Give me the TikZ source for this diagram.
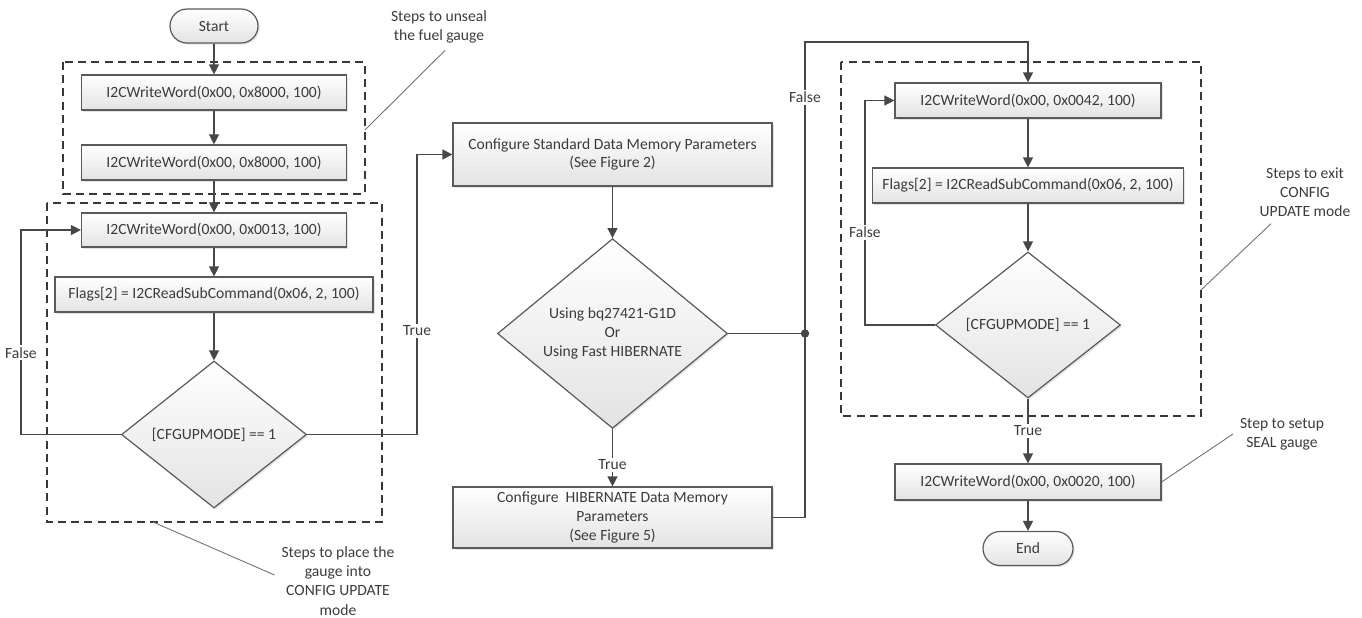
\documentclass[tikz,border=0pt]{standalone}
\usepackage{fontspec}
\setmainfont{Carlito}
\usetikzlibrary{positioning,shapes.geometric,arrows.meta,shadows}

\definecolor{ln}{HTML}{474747}
\definecolor{txt}{HTML}{3C3C3C}
\definecolor{boxline}{HTML}{5A5A5A}

\tikzset{
  base/.style={draw=boxline, line width=0.6pt, text=txt,
    font=\fontsize{7.8}{9.3}\selectfont, align=center,
    top color=white, bottom color=black!11,
    drop shadow={opacity=0.22, shadow xshift=0.8pt, shadow yshift=-0.8pt}},
  proc/.style={base, rectangle, inner sep=0pt},
  term/.style={base, rectangle, rounded corners=8.5pt, inner sep=0pt,
    minimum width=44pt, minimum height=17pt},
  test/.style={base, diamond, inner sep=0pt},
  flow/.style={draw=ln, line width=0.65pt, -{Triangle[length=5pt,width=5pt]}},
  wire/.style={draw=ln, line width=0.65pt},
  frame/.style={draw=black!78, line width=0.6pt, dash pattern=on 4pt off 2.6pt},
  note/.style={align=center, text=txt, font=\fontsize{7.8}{9.6}\selectfont},
  callout/.style={draw=black!55, line width=0.45pt},
  lbl/.style={fill=white, inner sep=1pt, text=txt, font=\fontsize{7.8}{9.3}\selectfont}
}

\begin{document}
\begin{tikzpicture}[x=0.5pt, y=-0.5pt]
  \useasboundingbox (0,0) rectangle (1362,617);

  % unseal and enter config update
  \node (start) [term] at (214,26) {Start};
  \node (a1) [proc, below of=start, node distance=33.25pt, minimum width=132.5pt, minimum height=17.5pt] {I2CWriteWord(0x00, 0x8000, 100)};
  \node (a2) [proc, below of=a1, node distance=35pt, minimum width=132.5pt, minimum height=17.5pt] {I2CWriteWord(0x00, 0x8000, 100)};
  \node (a3) [proc, below of=a2, node distance=33.75pt, minimum width=132.5pt, minimum height=17pt] {I2CWriteWord(0x00, 0x0013, 100)};
  \node (a4) [proc, below of=a3, node distance=32.25pt, minimum width=159pt, minimum height=17.5pt] {Flags[2] = I2CReadSubCommand(0x06, 2, 100)};
  \node (d1) [test, below of=a4, node distance=70pt, minimum width=92.5pt, minimum height=73.5pt] {[CFGUPMODE] == 1};

  % data memory
  \node (b1) [proc, minimum width=159.5pt, minimum height=31.5pt] at (612.5,154.5) {Configure Standard Data Memory Parameters\\(See Figure 2)};
  \node (d2) [test, below of=b1, node distance=89.5pt, minimum width=115pt, minimum height=91.5pt] {Using bq27421-G1D\\Or\\Using Fast HIBERNATE};
  \node (b2) [proc, below of=d2, node distance=92pt, minimum width=159.5pt, minimum height=30.5pt] {Configure\ \ HIBERNATE Data Memory\\Parameters\\(See Figure 5)};
  \coordinate (dot) at (805,333.5);

  % exit config update and seal
  \node (c1) [proc, minimum width=133pt, minimum height=17.5pt] at (1028,100.5) {I2CWriteWord(0x00, 0x0042, 100)};
  \node (c2) [proc, below of=c1, node distance=42.5pt, minimum width=155.5pt, minimum height=17.5pt] {Flags[2] = I2CReadSubCommand(0x06, 2, 100)};
  \node (d3) [test, below of=c2, node distance=69.75pt, minimum width=92.5pt, minimum height=73pt] {[CFGUPMODE] == 1};
  \node (c3) [proc, below of=d3, node distance=78.5pt, minimum width=133pt, minimum height=18pt] {I2CWriteWord(0x00, 0x0020, 100)};
  \node (end) [term, below of=c3, node distance=33.25pt, minimum width=45pt] {End};

  % dashed groups
  \draw[frame] (63,62) rectangle (365,194);
  \draw[frame] (47,203) rectangle (382,522);
  \draw[frame] (841,62) rectangle (1201,416);

  % flow
  \draw[flow] (start) -- (a1);
  \draw[flow] (a1) -- (a2);
  \draw[flow] (a2) -- (a3);
  \draw[flow] (a3) -- (a4);
  \draw[flow] (a4) -- (d1);
  \draw[flow] (d1.west) -- ++(-100,0) |- node[lbl, pos=0.2] {False} (a3.west);
  \draw[flow] (d1.east) -- ++(110,0) |- node[lbl, pos=0.185] {True} (b1.west);
  \draw[flow] (b1) -- (d2);
  \draw[flow] (d2) -- node[lbl, pos=0.62] {True} (b2);
  \draw[wire] (d2.east) -- (dot);
  \draw[wire] (b2.east) -| (dot);
  \fill[ln] (dot) circle[radius=2.1pt];
  \draw[flow] (dot) -- node[lbl, pos=0.81] {False} ++(0,-291.5) -| (c1.north);
  \draw[flow] (c1) -- (c2);
  \draw[flow] (c2) -- (d3);
  \draw[flow] (d3.west) -- ++(-70,0) |- node[lbl, pos=0.207] {False} (c1.west);
  \draw[flow] (d3) -- node[lbl] {True} (c3);
  \draw[flow] (c3) -- (end);

  % notes
  \node (n1) [note] at (439,27) {Steps to unseal\\the fuel gauge};
  \node (n2) [note] at (338,581) {Steps to place the\\gauge into\\CONFIG UPDATE\\mode};
  \node (n3) [note] at (1305,192) {Steps to exit\\CONFIG\\UPDATE mode};
  \node (n4) [note] at (1282,434) {Step to setup\\SEAL gauge};
  \coordinate (f1) at (365,130);
  \coordinate (f2) at (153,522);
  \coordinate (f3) at (1201,290);
  \draw[callout] (f1) -- ([xshift=3pt]n1.south);
  \draw[callout] (f2) -- ([yshift=3pt]n2.west);
  \draw[callout] (f3) -- ([xshift=-17pt]n3.south);
  \draw[callout] (c3.east) -- (n4.west);
\end{tikzpicture}
\end{document}
